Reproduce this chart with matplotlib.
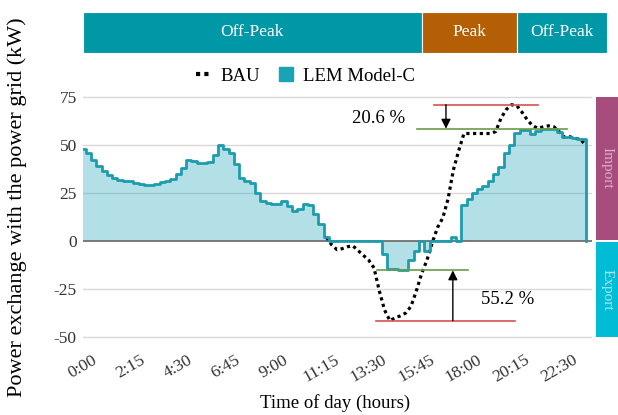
import matplotlib.pyplot as plt
from matplotlib.lines import Line2D
import numpy as np

plt.rcParams['font.family'] = ['Liberation Serif', 'DejaVu Serif']

# power exchange (kW), one value per 15 min, 0:00 .. 23:45
lem = [48, 46, 42, 39, 36.5, 34.5, 33, 32, 31.5, 31,
       30, 29.5, 29, 29, 29.5, 30.5, 31, 32.5, 35, 38,
       42, 41.5, 40.5, 40.5, 41, 45, 50, 48, 46, 40,
       33, 31.5, 30, 25, 21, 20, 19.5, 19.5, 21, 18,
       15.5, 16.5, 19.5, 19, 14, 9, 2, 0, 0, 0,
       0, 0, 0, 0, 0, 0, 0, -7, -14.5, -14.5,
       -15, -15.3, -10, -5, 0, -5, 0, 0, 0, 0,
       2, 0, 18.5, 22, 25, 27, 28.5, 31, 35, 38.5,
       46, 50, 56.5, 57.8, 57.8, 55.5, 57.5, 58.3, 58.5, 58.3,
       57, 54, 54.3, 53.5, 53, 53]
bau = lem[:47] + [
       -2, -4.5, -4, -3, -2.5, -5, -7.5, -10, -14, -26,
       -36, -41.5, -40, -39, -37.5, -34, -26, -17, -10, -1,
       7, 12, 22, 37, 47, 56, 56, 56, 56, 56,
       56, 57, 64, 68.5, 71, 70.5, 67, 63, 60, 58.7,
       59.5, 60, 59.5, 57, 54, 54.3, 53.5, 53, 50]
tick_labels = ['0:00', '2:15', '4:30', '6:45', '9:00', '11:15',
               '13:30', '15:45', '18:00', '20:15', '22:30']
periods = ['Off-Peak', 'Peak', 'Off-Peak']
period_edges = [0, 64, 82, 99]
period_colors = ['#0097a7', '#b45f06', '#0097a7']

W, H = 618, 415
fig = plt.figure(figsize=(W / 100, H / 100), dpi=100)

# main axes: ylim -52..77 mapped to pixel rows 340.8..93.2
ax = fig.add_axes([83 / W, 1 - 340.8 / H, (592 - 83) / W, 247.6 / H])
ax.set_xlim(0, 96.2)
ax.set_ylim(-52, 77)

x = np.arange(len(lem))
x_lem = np.append(x, x[-1])
y_lem = np.append(lem, 0)

# BAU only shows where it leaves the LEM curve
split = 46

for g in [-50, -25, 25, 50, 75]:
    ax.axhline(g, color='#d9d9d9', lw=1, zorder=0)
ax.axhline(0, color='#707070', lw=1.3, zorder=1.5)

ax.fill_between(x_lem, y_lem, 0, step='mid', color='#1aa3b5', alpha=0.33, lw=0, zorder=1)
ax.plot(x[split:], bau[split:], color='black', linestyle=(0, (1, 1.1)), lw=2.3, zorder=2)
ax.plot(x_lem, y_lem, color='#1c9cac', lw=2, drawstyle='steps-mid',
        solid_joinstyle='round', zorder=3)

# peak reduction markers
top_red, top_green = max(bau), max(lem)
bot_red, bot_green = min(bau), min(lem)
ax.plot([66.4, 86], [top_red, top_red], color='#d65252', lw=1.2, zorder=4)
ax.plot([63.1, 91.5], [top_green, top_green], color='#6b9b47', lw=1.2, zorder=4)
ax.annotate('', xy=(68.6, top_green), xytext=(68.6, top_red),
            arrowprops=dict(arrowstyle='-|>', color='black', lw=1,
                            mutation_scale=14, shrinkA=0, shrinkB=0), zorder=5)
ax.text(55.8, 64, '20.6 %', fontsize=13.5, ha='center', va='center')

ax.plot([55.6, 72.8], [bot_green, bot_green], color='#6b9b47', lw=1.2, zorder=4)
ax.plot([55.4, 81.7], [bot_red, bot_red], color='#d65252', lw=1.2, zorder=4)
ax.annotate('', xy=(69.9, bot_green), xytext=(69.9, bot_red),
            arrowprops=dict(arrowstyle='-|>', color='black', lw=1,
                            mutation_scale=14, shrinkA=0, shrinkB=0), zorder=5)
ax.text(80.2, -30.7, '55.2 %', fontsize=13.5, ha='center', va='center')

for s in ax.spines.values():
    s.set_visible(False)
ax.set_yticks([-50, -25, 0, 25, 50, 75])
ax.set_yticklabels(['-50', '-25', '0', '25', '50', '75'])
ax.set_xticks(np.arange(0, 91, 9))
ax.set_xticklabels(tick_labels, rotation=30, ha='center')
ax.tick_params(axis='y', length=0, pad=4.5, labelsize=12.5, labelcolor='#333333')
ax.tick_params(axis='x', length=0, pad=8, labelsize=12.5, labelcolor='#333333')
ax.set_xlabel('Time of day (hours)', fontsize=13.5)
ax.xaxis.set_label_coords(0.495, -0.215)
ax.set_ylabel('Power exchange with the power grid (kW)', fontsize=16)
ax.yaxis.set_label_coords(-0.11, 0.54)

# tariff band on top
top = fig.add_axes([83 / W, 1 - 53 / H, (607 - 83) / W, 41 / H])
top.set_xlim(0, 99)
top.set_ylim(0, 1)
for i in range(len(periods)):
    a, b = period_edges[i], period_edges[i + 1]
    top.bar(a, 1, width=b - a, align='edge', color=period_colors[i],
            edgecolor='white', lw=0.8)
    top.text((a + b) / 2, 0.5, periods[i], color='white', fontsize=12.5,
             ha='center', va='center')
top.axis('off')

# import / export band on the right
side = fig.add_axes([596 / W, 1 - 340.8 / H, 22 / W, 247.6 / H])
side.set_xlim(0, 1)
side.set_ylim(-52, 77)
side.bar(0, 74.5, bottom=0.5, width=1, align='edge', color='#a64d7e')
side.bar(0, -49.5, bottom=-0.5, width=1, align='edge', color='#00bcd4')
side.text(0.5, 38, 'Import', rotation=270, color='#dcb0c8', fontsize=11,
          ha='center', va='center')
side.text(0.5, -25.5, 'Export', rotation=270, color='#a8e6ef', fontsize=11,
          ha='center', va='center')
side.axis('off')

handles = [Line2D([], [], color='black', linestyle=(0, (1, 1)), lw=3),
           Line2D([], [], color='#1aa3b5', marker='s', markersize=10, linestyle='none')]
fig.legend(handles, ['BAU', 'LEM Model-C'], loc='center', bbox_to_anchor=(0.494, 0.817),
           ncol=2, frameon=False, fontsize=13.5, handlelength=0.8,
           handletextpad=0.5, columnspacing=1.0)

fig.savefig('out.png', dpi=100)
